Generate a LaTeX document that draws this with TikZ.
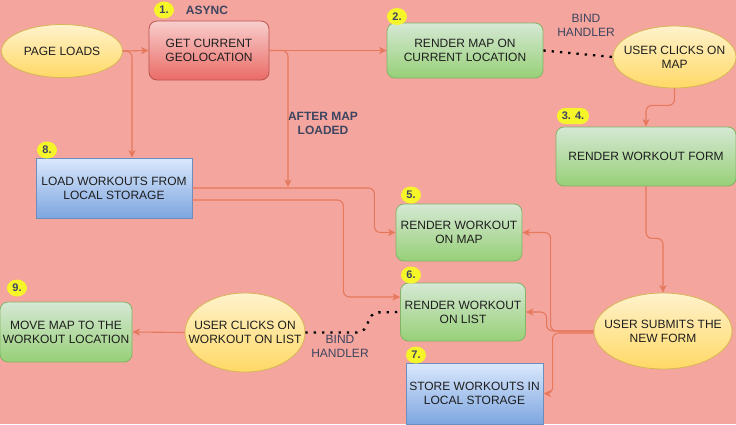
\documentclass[tikz,border=0pt]{standalone}
\usepackage{fontspec}
\setmainfont{Liberation Sans}
\usetikzlibrary{shapes.geometric,arrows.meta,calc}
\definecolor{bg}{HTML}{F4A59D}
\definecolor{edgec}{HTML}{E6785E}
\definecolor{lblc}{HTML}{3D4560}
\definecolor{txtc}{HTML}{1E1E1E}
\definecolor{gdraw}{HTML}{82B366}
\definecolor{gtop}{HTML}{D5E8D4}
\definecolor{gbot}{HTML}{97D077}
\definecolor{rdraw}{HTML}{B85450}
\definecolor{rtop}{HTML}{F8CECC}
\definecolor{rbot}{HTML}{EA6B66}
\definecolor{bdraw}{HTML}{6C8EBF}
\definecolor{btop}{HTML}{DAE8FC}
\definecolor{bbot}{HTML}{7EA6E0}
\definecolor{ydraw}{HTML}{D6B656}
\definecolor{ytop}{HTML}{FFF2CC}
\definecolor{ybot}{HTML}{FFD966}
\definecolor{badgec}{HTML}{F5F52A}
\tikzset{
  basebox/.style={draw, line width=0.8pt, align=center, text=txtc,
    font=\fontsize{12}{14}\selectfont, inner sep=2pt},
  greenbox/.style={basebox, rounded corners=8pt, draw=gdraw, top color=gtop, bottom color=gbot},
  redbox/.style={basebox, rounded corners=8pt, draw=rdraw, top color=rtop, bottom color=rbot},
  bluebox/.style={basebox, draw=bdraw, top color=btop, bottom color=bbot},
  ellbox/.style={basebox, ellipse, draw=ydraw, top color=ytop, bottom color=ybot,
    inner xsep=-15pt, inner ysep=0pt},
  badge/.style={ellipse, fill=badgec, inner sep=0pt, minimum width=20pt, minimum height=17pt,
    font=\bfseries\fontsize{11}{13}\selectfont, text=lblc},
  lbl/.style={align=center, text=lblc, font=\fontsize{12}{14}\selectfont},
  edge/.style={draw=edgec, line width=1.1pt, rounded corners=6pt,
    -{Stealth[length=7.5pt,width=7pt,inset=2pt]}},
  dotline/.style={draw=black, line width=2.3pt, dash pattern=on 2.3pt off 6pt, rounded corners=6pt}
}
\begin{document}
\begin{tikzpicture}[x=1pt,y=-1pt]
\fill[bg] (0,0) rectangle (736,424);
\useasboundingbox (0,0) rectangle (736,424);

% nodes
\node[ellbox, minimum width=121pt, minimum height=53pt] (page) at (62,51) {PAGE LOADS};
\node[redbox, minimum width=120pt, minimum height=59pt] (geo) at (209,50.5) {GET CURRENT\\GEOLOCATION};
\node[greenbox, minimum width=156pt, minimum height=55pt] (rmap) at (465,50.5) {RENDER MAP ON\\CURRENT LOCATION};
\node[ellbox, minimum width=123pt, minimum height=62pt] (uclick) at (674.5,57) {USER CLICKS ON\\MAP};
\node[greenbox, minimum width=180pt, minimum height=59pt] (form) at (646,156.5) {RENDER WORKOUT FORM};
\node[bluebox, minimum width=156pt, minimum height=60pt] (load) at (114,188) {LOAD WORKOUTS FROM\\LOCAL STORAGE};
\node[greenbox, minimum width=126pt, minimum height=57pt] (wmap) at (459,232.5) {RENDER WORKOUT\\ON MAP};
\node[greenbox, minimum width=125pt, minimum height=58pt] (wlist) at (463,312) {RENDER WORKOUT\\ON LIST};
\node[bluebox, minimum width=137pt, minimum height=61pt] (store) at (474.5,393.5) {STORE WORKOUTS IN\\LOCAL STORAGE};
\node[ellbox, minimum width=138pt, minimum height=76pt] (submit) at (663,331) {USER SUBMITS THE\\NEW FORM};
\node[ellbox, minimum width=120pt, minimum height=79pt] (wclick) at (245,332.5) {USER CLICKS ON\\WORKOUT ON LIST};
\node[greenbox, minimum width=132pt, minimum height=60pt] (move) at (66,332) {MOVE MAP TO THE\\WORKOUT LOCATION};

% badges
\node[badge] (b1) at (164,10) {1.};
\node[badge] (b2) at (397,16.5) {2.};
\node[badge, rectangle, rounded corners=8pt, minimum width=32pt, minimum height=16pt] (b34) at (573,116) {3. 4.};
\node[badge] (b8) at (47,150) {8.};
\node[badge] (b5) at (411,195) {5.};
\node[badge] (b6) at (411,275) {6.};
\node[badge] (b7) at (416,355) {7.};
\node[badge] (b9) at (17,288) {9.};

% labels
\node[lbl, font=\bfseries\fontsize{12}{14}\selectfont] (async) at (207,10) {ASYNC};
\node[lbl] (bind1) at (586,25) {BIND\\HANDLER};
\node[lbl, font=\bfseries\fontsize{12}{14}\selectfont] (aml) at (323,123) {AFTER MAP\\LOADED};
\node[lbl] (bind2) at (340,346.5) {BIND\\HANDLER};

\coordinate (amlend) at (288,187);

% edges
\draw[edge] (page.east) -- (geo.west);
\draw[edge] (page.east) -| ([xshift=18pt]load.north);
\draw[edge] (geo.east) -- (rmap.west);
\draw[edge] (geo.east) -| (amlend);
\draw[dotline] (rmap.east) -- (uclick.west);
\draw[edge] (uclick.south) -- ++(0,17) -| (form.north);
\draw[edge] (form.south) -- ++(0,52) -| (submit.north);
\draw[edge] (load.east) -- ++(182,0) |- (wmap.west);
\draw[edge] ([yshift=-12pt]load.east) -- ++(151,0) |- ([yshift=15pt]wlist.west);
\draw[edge] (submit.west) -- ++(-43,0) |- (wmap.east);
\draw[edge] (submit.west) -- ++(-47,0) |- (wlist.east);
\draw[edge] ([yshift=-2pt]submit.west) -- ++(-41,0) |- (store.east);
\draw[edge] (wclick.west) -- (move.east);
\draw[dotline] (wclick.east) -- ++(58,0) -- ++(9,-20) -- (wlist.west);
\end{tikzpicture}
\end{document}
